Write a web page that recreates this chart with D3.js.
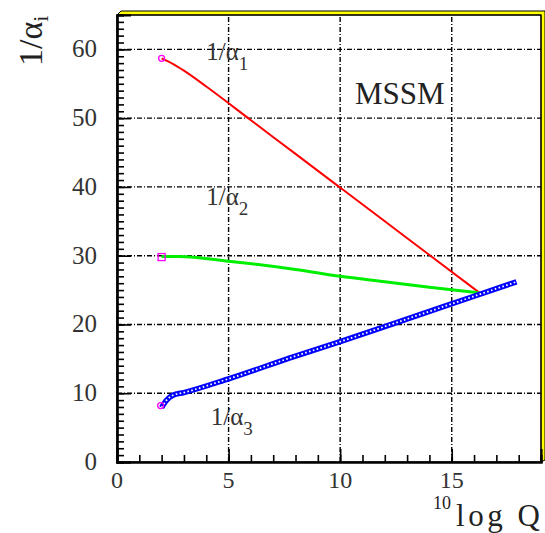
<!DOCTYPE html>
<html>
<head>
<meta charset="utf-8">
<script src="https://cdn.jsdelivr.net/npm/d3@7"></script>
<style>
  body { margin: 0; background: #fff; }
</style>
</head>
<body>
<div id="chart"></div>
<script>
// values
var alpha1X = [2, 2.5, 3, 4, 6, 8, 10, 12, 14, 16.25];
var alpha1Y = [58.7, 57.9, 56.9, 54.6, 49.7, 44.8, 39.9, 35, 30.1, 24.6];
var alpha2X = [2, 2.8, 5, 8, 10, 12, 14, 16.2];
var alpha2Y = [29.9, 29.9, 29.2, 28.0, 27.0, 26.2, 25.4, 24.6];
var alpha3X = [2, 2.2, 2.5, 3, 5, 8, 10, 12, 14, 16, 17.9];
var alpha3Y = [7.9, 8.9, 9.7, 10.1, 12.1, 15.4, 17.5, 19.7, 21.9, 24.1, 26.2];
var startX = [2, 2, 2];
var startY = [58.7, 29.8, 8.2];
var xTicks = [0, 5, 10, 15];
var yTicks = [0, 10, 20, 30, 40, 50, 60];

var width = 545, height = 533;
var marginLeft = 117, marginRight = 4, marginTop = 15, marginBottom = 71;
var serif = "'Liberation Serif', 'Times New Roman', 'DejaVu Serif', serif";

var svg = d3.select("#chart").append("svg")
	.attr("width", width)
	.attr("height", height)
	.attr("font-family", serif);

var x = d3.scaleLinear().domain([0, 19]).range([marginLeft, width - marginRight]);
var y = d3.scaleLinear().domain([0, 65]).range([height - marginBottom, marginTop]);

var x0 = x.range()[0], x1 = x.range()[1], y0 = y.range()[0], y1 = y.range()[1];

// yellow bevel on top and right
svg.append("path")
	.attr("d", `M${x0},${y1} L${x0 + 4},${y1 - 4} L${x1 + 4},${y1 - 4} L${x1 + 4},${y0 - 2} L${x1},${y0} L${x1},${y1} Z`)
	.attr("fill", "#ffff00")
	.attr("stroke", "#000")
	.attr("stroke-width", 1);

// grid
var gridDash = "5,2,1,2";
svg.append("g").selectAll("line")
	.data(yTicks.filter(d => d > 0))
	.enter().append("line")
	.attr("x1", x0).attr("x2", x1)
	.attr("y1", d => y(d)).attr("y2", d => y(d))
	.attr("stroke", "#000").attr("stroke-width", 1.4)
	.attr("stroke-dasharray", gridDash);
svg.append("g").selectAll("line")
	.data(xTicks.filter(d => d > 0))
	.enter().append("line")
	.attr("y1", y0).attr("y2", y1)
	.attr("x1", d => x(d)).attr("x2", d => x(d))
	.attr("stroke", "#000").attr("stroke-width", 1.4)
	.attr("stroke-dasharray", gridDash);

// frame
svg.append("rect")
	.attr("x", x0).attr("y", y1)
	.attr("width", x1 - x0).attr("height", y0 - y1)
	.attr("fill", "none").attr("stroke", "#000").attr("stroke-width", 1.2);

// axes, ticks pointing inward
svg.append("g")
	.attr("transform", `translate(0, ${y0})`)
	.call(d3.axisTop(x).tickValues(d3.range(0, 19, 1)).tickSize(7).tickFormat(""));
svg.append("g")
	.attr("transform", `translate(0, ${y0})`)
	.call(d3.axisTop(x).tickValues(xTicks).tickSize(13).tickFormat(""));
svg.append("g")
	.attr("transform", `translate(${x0}, 0)`)
	.call(d3.axisRight(y).tickValues(d3.range(0, 66, 1)).tickSize(7).tickFormat(""));
svg.append("g")
	.attr("transform", `translate(${x0}, 0)`)
	.call(d3.axisRight(y).tickValues(yTicks).tickSize(14).tickFormat(""));
svg.selectAll(".domain").attr("stroke-width", 2.2);
svg.selectAll(".tick line").attr("stroke-width", 1.6);

// tick labels
svg.append("g").selectAll("text")
	.data(xTicks)
	.enter().append("text")
	.attr("x", d => x(d)).attr("y", y0 + 26)
	.attr("text-anchor", "middle")
	.attr("font-family", serif)
	.attr("font-size", 24).attr("fill", "#333")
	.text(d => d);
svg.append("g").selectAll("text")
	.data(yTicks)
	.enter().append("text")
	.attr("x", x0 - 20).attr("y", d => y(d) + 8)
	.attr("text-anchor", "end")
	.attr("font-family", serif)
	.attr("font-size", 25).attr("fill", "#333")
	.text(d => d);

// curves
var line = d3.line().curve(d3.curveMonotoneX).x(d => x(d[0])).y(d => y(d[1]));
svg.append("path")
	.attr("d", line(d3.zip(alpha1X, alpha1Y)))
	.attr("fill", "none").attr("stroke", "#ff0000").attr("stroke-width", 2);
svg.append("path")
	.attr("d", line(d3.zip(alpha2X, alpha2Y)))
	.attr("fill", "none").attr("stroke", "#00ee00").attr("stroke-width", 3);
var blue = line(d3.zip(alpha3X, alpha3Y));
svg.append("path")
	.attr("d", blue)
	.attr("fill", "none").attr("stroke", "#0000ff").attr("stroke-width", 5.5);
svg.append("path")
	.attr("d", blue)
	.attr("fill", "none").attr("stroke", "#fff").attr("stroke-width", 1.8)
	.attr("stroke-dasharray", "1.6,2.4");

// start markers
svg.append("circle")
	.attr("cx", x(startX[0])).attr("cy", y(startY[0])).attr("r", 3)
	.attr("fill", "none").attr("stroke", "#ff00ff").attr("stroke-width", 1.3);
svg.append("rect")
	.attr("x", x(startX[1]) - 3.5).attr("y", y(startY[1]) - 3.5)
	.attr("width", 7).attr("height", 7)
	.attr("fill", "none").attr("stroke", "#ff00ff").attr("stroke-width", 1.3);
svg.append("circle")
	.attr("cx", x(startX[2]) - 1).attr("cy", y(startY[2])).attr("r", 3)
	.attr("fill", "none").attr("stroke", "#ff00ff").attr("stroke-width", 1.3);

// curve labels
function alphaLabel(px, py, sub) {
	var t = svg.append("text")
		.attr("x", px).attr("y", py)
		.attr("font-family", serif)
		.attr("font-size", 25).attr("fill", "#333");
	t.append("tspan").text("1/\u03b1");
	t.append("tspan").attr("font-size", 19).attr("dy", 10).text(sub);
}
alphaLabel(x(4), y(58.7) + 2, "1");
alphaLabel(x(4), y(37.3), "2");
alphaLabel(x(4.2), y(5.4), "3");

svg.append("text")
	.attr("x", 355).attr("y", 104)
	.attr("font-family", serif)
	.attr("font-size", 31).attr("fill", "#222")
	.text("MSSM");

// axis titles
svg.append("text")
	.attr("x", 433).attr("y", 509)
	.attr("font-family", serif)
	.attr("font-size", 18).attr("fill", "#222")
	.text("10");
svg.append("text")
	.attr("x", 456).attr("y", 526)
	.attr("font-family", serif)
	.attr("font-size", 31).attr("fill", "#222")
	.attr("textLength", 84).attr("lengthAdjust", "spacing")
	.text("log Q");

var yt = svg.append("text")
	.attr("transform", "translate(42, 66) rotate(-90)")
	.attr("font-family", serif)
	.attr("font-size", 34).attr("fill", "#222");
yt.append("tspan").text("1/\u03b1");
yt.append("tspan").attr("font-size", 22).attr("dy", 6).text("i");
</script>
</body>
</html>
